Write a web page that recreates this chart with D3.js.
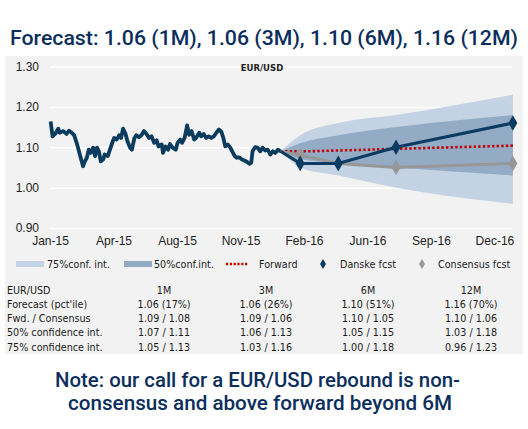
<!DOCTYPE html>
<html>
<head>
<meta charset="utf-8">
<script src="https://cdn.jsdelivr.net/npm/d3@7"></script>
<style>
  body { margin: 0; background: #fff; }
  svg { display: block; font-family: "DejaVu Sans", sans-serif; }
  .grid line { stroke: #fff; stroke-width: 1.5; }
  .grid .domain { display: none; }
  .axis text { fill: #222; font-size: 12px; }
  .axis .domain { display: none; }
  .leg, .tbl { fill: #1a1a1a; font-size: 9.6px; }
  .head { font-family: Roboto, sans-serif; font-weight: 500; fill: #0c2e5c; }
</style>
</head>
<body>
<div id="chart"></div>
<script>
// historical EUR/USD
const histDates = ["2015-01-21","2015-01-24","2015-01-28","2015-02-02","2015-02-04","2015-02-10","2015-02-15","2015-02-19",
  "2015-02-23","2015-02-27","2015-03-03","2015-03-06","2015-03-10","2015-03-13","2015-03-16","2015-03-19","2015-03-22",
  "2015-03-25","2015-03-29","2015-04-01","2015-04-04","2015-04-07","2015-04-10","2015-04-14","2015-04-16","2015-04-21",
  "2015-04-24","2015-04-28","2015-05-01","2015-05-05","2015-05-09","2015-05-12","2015-05-15","2015-05-19","2015-05-22",
  "2015-05-26","2015-05-29","2015-06-02","2015-06-05","2015-06-09","2015-06-13","2015-06-17","2015-06-21","2015-06-25",
  "2015-06-29","2015-07-03","2015-07-07","2015-07-10","2015-07-15","2015-07-17","2015-07-21","2015-07-25","2015-07-28",
  "2015-08-01","2015-08-06","2015-08-09","2015-08-13","2015-08-16","2015-08-20","2015-08-24","2015-08-27","2015-08-31",
  "2015-09-04","2015-09-07","2015-09-12","2015-09-15","2015-09-19","2015-09-23","2015-09-27","2015-10-01","2015-10-05",
  "2015-10-09","2015-10-13","2015-10-17","2015-10-20","2015-10-23","2015-10-27","2015-10-31","2015-11-03","2015-11-07",
  "2015-11-10","2015-11-14","2015-11-18","2015-11-22","2015-11-26","2015-11-30","2015-12-03","2015-12-05","2015-12-09",
  "2015-12-13","2015-12-17","2015-12-21","2015-12-25","2015-12-29","2016-01-02","2016-01-06","2016-01-10","2016-01-14",
  "2016-01-18"];
const histValues = [1.164,1.127,1.133,1.146,1.136,1.140,1.133,1.141,
  1.136,1.130,1.111,1.094,1.070,1.053,1.065,1.074,1.094,
  1.086,1.099,1.078,1.099,1.090,1.065,1.070,1.082,1.078,
  1.092,1.111,1.123,1.119,1.130,1.123,1.146,1.133,1.115,
  1.099,1.094,1.123,1.130,1.125,1.130,1.140,1.133,1.123,
  1.127,1.111,1.117,1.102,1.107,1.086,1.102,1.094,1.108,
  1.099,1.094,1.111,1.119,1.111,1.123,1.154,1.131,1.140,
  1.119,1.123,1.136,1.127,1.133,1.123,1.127,1.123,1.127,
  1.136,1.144,1.138,1.123,1.102,1.107,1.099,1.090,1.078,
  1.074,1.075,1.070,1.067,1.064,1.059,1.062,1.090,1.100,
  1.099,1.090,1.099,1.092,1.094,1.082,1.090,1.086,1.094,
  1.090];

// forecast horizon: spot, 1M, 3M, 6M, 12M
const fcstDates = ["2016-01-18","2016-02-18","2016-04-18","2016-07-18","2017-01-18"];
const danske    = [1.09, 1.06, 1.06, 1.10, 1.16];
const consensus = [1.09, 1.08, 1.06, 1.05, 1.06];
const forward   = [1.09, 1.09, 1.092, 1.096, 1.104];
const ci50Low   = [1.09, 1.07, 1.06, 1.05, 1.03];
const ci50High  = [1.09, 1.11, 1.13, 1.15, 1.18];
const ci75Low   = [1.09, 1.05, 1.03, 1.00, 0.96];
const ci75High  = [1.09, 1.13, 1.16, 1.18, 1.23];

const yTicks = [0.90, 1.00, 1.10, 1.20, 1.30];

// table
const tblHeader = ["EUR/USD", "1M", "3M", "6M", "12M"];
const tblRowLabels = ["Forecast (pct'ile)", "Fwd. / Consensus", "50% confidence int.", "75% confidence int."];
const tblRows = [
  ["1.06 (17%)", "1.06 (26%)", "1.10 (51%)", "1.16 (70%)"],
  ["1.09 / 1.08", "1.09 / 1.06", "1.10 / 1.05", "1.10 / 1.06"],
  ["1.07 / 1.11", "1.06 / 1.13", "1.05 / 1.15", "1.03 / 1.18"],
  ["1.05 / 1.13", "1.03 / 1.16", "1.00 / 1.18", "0.96 / 1.23"]
];

const W = 528, H = 429;
const parse = d3.timeParse("%Y-%m-%d");
const navy = "#0b3c5d";

const svg = d3.select("#chart").append("svg").attr("width", W).attr("height", H);

// panel
svg.append("rect").attr("x", 5).attr("y", 56).attr("width", 518).attr("height", 298).attr("fill", "#f2f2f2");

// title
svg.append("text").attr("class", "head").attr("x", 10).attr("y", 45)
  .attr("font-size", 21).attr("textLength", 508).attr("lengthAdjust", "spacingAndGlyphs")
  .text("Forecast: 1.06 (1M), 1.06 (3M), 1.10 (6M), 1.16 (12M)");

const x0 = parse("2015-01-20");
const x = d3.scaleTime().domain([x0, parse("2017-01-19")]).range([50, 513.5]);
const y = d3.scaleLinear().domain([0.90, 1.30]).range([228, 66.5]);

// grid + y labels
svg.append("g").attr("class", "grid axis").attr("transform", "translate(50,0)")
  .call(d3.axisLeft(y).tickValues(yTicks).tickSize(-462).tickPadding(11).tickFormat(d3.format(".2f")));

// x axis: one label every 100 days
const xTicks = d3.range(0, 8).map(i => d3.timeDay.offset(x0, i * 100));
svg.append("g").attr("class", "axis").attr("transform", "translate(0,228)")
  .call(d3.axisBottom(x).tickValues(xTicks).tickSize(0).tickPadding(8).tickFormat(d3.timeFormat("%b-%y")))
  .selectAll("text").attr("font-size", 12.5);

svg.append("text").attr("x", 262).attr("y", 71).attr("text-anchor", "middle")
  .attr("font-size", 8.5).attr("font-weight", "bold").attr("fill", "#222").text("EUR/USD");

// confidence bands
const fd = fcstDates.map(parse);
const band = (lo, hi) => d3.area().curve(d3.curveMonotoneX)
  .x((d, i) => x(fd[i])).y0((d, i) => y(lo[i])).y1((d, i) => y(hi[i]))(fd);
svg.append("path").attr("d", band(ci75Low, ci75High)).attr("fill", "#c3d3e3");
svg.append("path").attr("d", band(ci50Low, ci50High)).attr("fill", "#93abc5");

// historical
const line = d3.line().x(d => x(d[0])).y(d => y(d[1]));
svg.append("path").attr("d", line(histDates.map((d, i) => [parse(d), histValues[i]])))
  .attr("fill", "none").attr("stroke", navy).attr("stroke-width", 3.8).attr("stroke-linejoin", "round");

// forward
svg.append("path").attr("d", d3.line().curve(d3.curveMonotoneX).x(d => x(d[0])).y(d => y(d[1]))(fd.map((d, i) => [d, forward[i]])))
  .attr("fill", "none").attr("stroke", "#c00000").attr("stroke-width", 2.6).attr("stroke-dasharray", "2.4,2.2");

// consensus and danske lines with diamonds
const diamond = d3.symbol().type(d3.symbolDiamond);
function series(vals, color, w, size) {
  svg.append("path").attr("d", line(fd.map((d, i) => [d, vals[i]])))
    .attr("fill", "none").attr("stroke", color).attr("stroke-width", w);
  svg.selectAll(null).data(vals.slice(1)).enter().append("path")
    .attr("d", diamond.size(size))
    .attr("transform", (d, i) => `translate(${x(fd[i + 1])},${y(d)})`)
    .attr("fill", color);
}
series(consensus, "#979797", 3, 70);
series(danske, "#0a3b60", 3, 70);

// legend
const ly = 264;
svg.append("rect").attr("x", 16).attr("y", ly - 3).attr("width", 28).attr("height", 6).attr("fill", "#c3d3e3");
svg.append("text").attr("class", "leg").attr("x", 47).attr("y", ly + 3.5).text("75%conf. int.");
svg.append("rect").attr("x", 124).attr("y", ly - 3).attr("width", 28).attr("height", 6).attr("fill", "#93abc5");
svg.append("text").attr("class", "leg").attr("x", 154).attr("y", ly + 3.5).text("50%conf.int.");
svg.append("line").attr("x1", 226).attr("x2", 248).attr("y1", ly).attr("y2", ly)
  .attr("stroke", "#c00000").attr("stroke-width", 2.4).attr("stroke-dasharray", "2.2,1.6");
svg.append("text").attr("class", "leg").attr("x", 259).attr("y", ly + 3.5).text("Forward");
svg.append("path").attr("d", diamond.size(30)).attr("transform", `translate(323,${ly})`).attr("fill", "#0a3b60");
svg.append("text").attr("class", "leg").attr("x", 340).attr("y", ly + 3.5).text("Danske fcst");
svg.append("path").attr("d", diamond.size(30)).attr("transform", `translate(422,${ly})`).attr("fill", "#979797");
svg.append("text").attr("class", "leg").attr("x", 438).attr("y", ly + 3.5).text("Consensus fcst");

// table
const colX = [7, 164, 266, 368, 471];
const rowY = d3.range(5).map(i => 293.5 + i * 14.3);
tblHeader.forEach((h, j) => {
  svg.append("text").attr("class", "tbl").attr("x", colX[j]).attr("y", rowY[0])
    .attr("text-anchor", j ? "middle" : "start").text(h);
});
tblRows.forEach((r, i) => {
  svg.append("text").attr("class", "tbl").attr("x", colX[0]).attr("y", rowY[i + 1]).text(tblRowLabels[i]);
  r.forEach((v, j) => {
    svg.append("text").attr("class", "tbl").attr("x", colX[j + 1]).attr("y", rowY[i + 1])
      .attr("text-anchor", "middle").text(v);
  });
});

// note
svg.append("text").attr("class", "head").attr("x", 55).attr("y", 387).attr("font-size", 20.5)
  .attr("textLength", 405).attr("lengthAdjust", "spacingAndGlyphs")
  .text("Note: our call for a EUR/USD rebound is non-");
svg.append("text").attr("class", "head").attr("x", 68).attr("y", 410).attr("font-size", 20.5)
  .attr("textLength", 384).attr("lengthAdjust", "spacingAndGlyphs")
  .text("consensus and above forward beyond 6M");
</script>
</body>
</html>
